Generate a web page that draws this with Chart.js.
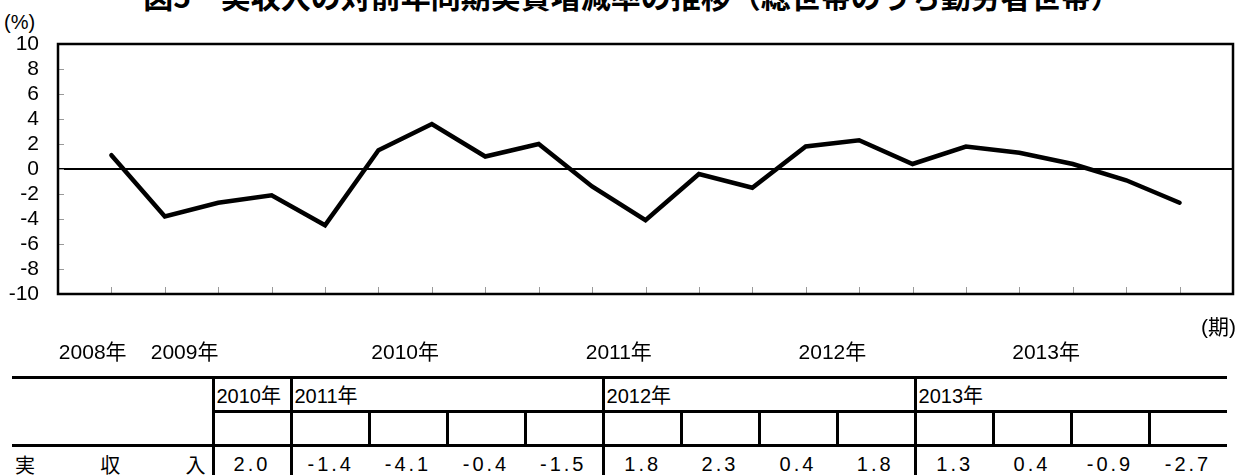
<!DOCTYPE html>
<html>
<head>
<meta charset="utf-8">
<script src="https://cdn.jsdelivr.net/npm/chart.js@4.4.1/dist/chart.umd.min.js"></script>
<style>
  html, body { margin: 0; padding: 0; background: #fff; }
  body {
    width: 1256px; height: 475px; overflow: hidden; position: relative;
    font-family: "Liberation Sans", Arial, "Noto Sans CJK JP", sans-serif; color: #000;
  }
  #title {
    position: absolute; left: 12px; width: 1240px; top: -21px;
    text-align: center; white-space: nowrap;
    font: bold 30px/32px "Noto Sans CJK JP", sans-serif;
  }
  #unitY { position: absolute; left: 4px; top: 10px; font-size: 20px; line-height: 24px; }
  #unitX { position: absolute; left: 1201px; top: 315px; font-size: 21px; line-height: 24px; }
  #wrap { position: absolute; left: 0; top: 0; width: 1256px; height: 372px; }
  table {
    position: absolute; left: 12px; top: 376px;
    border-collapse: collapse; table-layout: fixed; width: 1215px;
  }
  td { padding: 0; border: 0 solid #000; white-space: nowrap; }
  tr.head td { height: 31px; font-size: 20px; text-align: left; padding-left: 2px; }
  tr.blank td { height: 31px; }
  tr.vals td { height: 34px; font-size: 20px; text-align: center; letter-spacing: 3px; }
  td.name {
    font-family: "Noto Sans CJK JP", sans-serif; font-size: 20px; letter-spacing: 0;
    text-align: justify; text-align-last: justify; padding: 0 3px;
  }
</style>
</head>
<body>
<div id="title">図5　実収入の対前年同期実質増減率の推移（総世帯のうち勤労者世帯）</div>
<div id="unitY">(%)</div>
<div id="wrap"><canvas id="chart" width="1256" height="372"></canvas></div>
<div id="unitX">(期)</div>
<table id="tbl"></table>

<script>
// quarterly periods, 2008 Q4 .. 2013 Q4
const periods = [
  '2008-IV',
  '2009-I', '2009-II', '2009-III', '2009-IV',
  '2010-I', '2010-II', '2010-III', '2010-IV',
  '2011-I', '2011-II', '2011-III', '2011-IV',
  '2012-I', '2012-II', '2012-III', '2012-IV',
  '2013-I', '2013-II', '2013-III', '2013-IV'
];
const realIncome = [
  1.1,
  -3.8, -2.7, -2.1, -4.5,
  1.5, 3.6, 1.0, 2.0,
  -1.4, -4.1, -0.4, -1.5,
  1.8, 2.3, 0.4, 1.8,
  1.3, 0.4, -0.9, -2.7
];
const yTicks = [-10, -8, -6, -4, -2, 0, 2, 4, 6, 8, 10];
const yearLabels = ['2008年', '2009年', '2010年', '2011年', '2012年', '2013年'];
const yearLabelAt = [0.65, 2.37, 6.5, 10.5, 14.5, 18.5];

// table below the chart
const tableYears = ['2010年', '2011年', '2012年', '2013年'];
const tableSpans = [1, 4, 4, 4];
const tableRowName = '実収入';
const tableValues = realIncome.slice(-13);

// short grey tick marks pointing into the plot, then the black frame
const frame = {
  id: 'frame',
  afterDatasetsDraw(chart) {
    const { ctx, chartArea: a, scales } = chart;
    ctx.save();
    ctx.strokeStyle = '#9a9a9a';
    ctx.lineWidth = 1;
    ctx.beginPath();
    scales.x.ticks.forEach(t => {
      const px = Math.round(scales.x.getPixelForValue(t.value)) + 0.5;
      ctx.moveTo(px, a.bottom);
      ctx.lineTo(px, a.bottom - 7);
    });
    scales.y.ticks.forEach(t => {
      const py = Math.round(scales.y.getPixelForValue(t.value)) + 0.5;
      ctx.moveTo(a.left, py);
      ctx.lineTo(a.left + 6, py);
    });
    ctx.stroke();
    ctx.lineWidth = 2.5;
    ctx.strokeStyle = '#000';
    ctx.strokeRect(a.left, a.top, a.right - a.left, a.bottom - a.top);
    ctx.restore();
  }
};

new Chart(document.getElementById('chart'), {
  type: 'line',
  data: {
    datasets: [{
      label: '実収入',
      data: realIncome.map((v, i) => ({ x: i + 1, y: v })),
      borderColor: '#000',
      borderWidth: 4.5,
      pointRadius: 0,
      tension: 0,
      borderJoinStyle: 'miter',
      borderCapStyle: 'round',
      xAxisID: 'x',
      yAxisID: 'y'
    }]
  },
  options: {
    responsive: false,
    animation: false,
    layout: { padding: { top: 44, right: 23, left: 0, bottom: 0 } },
    plugins: { legend: { display: false }, tooltip: { enabled: false } },
    scales: {
      x: {
        type: 'linear', position: 'bottom', min: 0, max: periods.length + 1,
        afterBuildTicks: s => { s.ticks = periods.map((p, i) => ({ value: i + 1 })); },
        ticks: { display: false },
        grid: { display: false, drawTicks: false },
        border: { display: false },
        afterFit: s => { s.height = 0; }
      },
      x2: {
        type: 'linear', position: 'bottom', min: 0, max: periods.length + 1,
        afterBuildTicks: s => { s.ticks = yearLabelAt.map(v => ({ value: v })); },
        ticks: {
          autoSkip: false, maxRotation: 0, padding: 47, color: '#000',
          font: { family: '"Liberation Sans", Arial, "Noto Sans CJK JP", sans-serif', size: 21 },
          callback: (v, i) => yearLabels[i]
        },
        grid: { display: false, drawTicks: false },
        border: { display: false },
        afterFit: s => { s.height = 78; }
      },
      y: {
        min: -10, max: 10,
        afterBuildTicks: s => { s.ticks = yTicks.map(v => ({ value: v })); },
        ticks: {
          autoSkip: false, padding: 19, color: '#000',
          font: { family: '"Liberation Sans", Arial, sans-serif', size: 21 }
        },
        grid: {
          color: c => (c.tick && c.tick.value === 0 ? '#000' : 'rgba(0,0,0,0)'),
          lineWidth: c => (c.tick && c.tick.value === 0 ? 2 : 1),
          drawTicks: false
        },
        border: { display: false },
        afterFit: s => { s.width = 58; }
      }
    }
  },
  plugins: [frame]
});

// build the table
const tbl = document.getElementById('tbl');
const B = '3px solid #000';
let html = '<colgroup><col style="width:201px">';
tableValues.forEach(() => { html += '<col style="width:78px">'; });
html += '</colgroup>';

html += '<tr class="head"><td rowspan="2" style="border-top:' + B + ';border-bottom:' + B + '"></td>';
tableYears.forEach((y, i) => {
  html += '<td colspan="' + tableSpans[i] + '" style="border-top:' + B + ';border-left:' + B + ';border-bottom:' + B + '">' + y + '</td>';
});
html += '</tr>';

html += '<tr class="blank">';
tableValues.forEach(() => { html += '<td style="border-left:' + B + ';border-bottom:' + B + '"></td>'; });
html += '</tr>';

const blockStarts = [];
tableSpans.reduce((acc, n) => { blockStarts.push(acc); return acc + n; }, 0);
html += '<tr class="vals"><td class="name">' + tableRowName.split('').join(' ') + '</td>';
tableValues.forEach((v, i) => {
  const left = blockStarts.includes(i) ? 'border-left:' + B : '';
  html += '<td style="' + left + '">' + v.toFixed(1) + '</td>';
});
html += '</tr>';
tbl.innerHTML = html;
</script>
</body>
</html>
